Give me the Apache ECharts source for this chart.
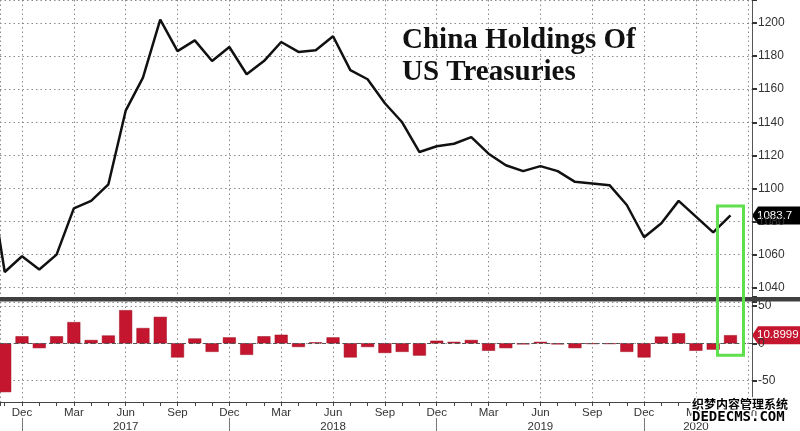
<!DOCTYPE html>
<html><head><meta charset="utf-8">
<script src="https://cdn.jsdelivr.net/npm/echarts@6/dist/echarts.min.js"></script>
<style>html,body{margin:0;padding:0;background:#fff}#c{width:800px;height:431px}</style>
</head><body><div id="c"></div>
<script>
// Months on the axis (Oct 2016 .. Jun 2020)
const months = ['Oct 2016','Nov 2016','Dec 2016','Jan 2017','Feb 2017','Mar 2017','Apr 2017','May 2017','Jun 2017','Jul 2017','Aug 2017','Sep 2017','Oct 2017','Nov 2017','Dec 2017','Jan 2018','Feb 2018','Mar 2018','Apr 2018','May 2018','Jun 2018','Jul 2018','Aug 2018','Sep 2018','Oct 2018','Nov 2018','Dec 2018','Jan 2019','Feb 2019','Mar 2019','Apr 2019','May 2019','Jun 2019','Jul 2019','Aug 2019','Sep 2019','Oct 2019','Nov 2019','Dec 2019','Jan 2020','Feb 2020','Mar 2020','Apr 2020','May 2020','Jun 2020'];
// China holdings of US Treasuries ($bn)
const holdings = [1115.5,1049.5,1059,1051,1060,1088,1092.5,1102.5,1147,1167,1202,1183,1189.5,1177,1185.5,1169,1177,1188.5,1182.5,1183.5,1192,1171.5,1166,1151.5,1140,1122,1125.5,1127,1131,1121,1114,1110.5,1113.5,1110.5,1104,1103,1102,1090,1070.5,1079,1092.5,1083,1073.5,1083.7];
// Monthly change ($bn)
const changes = [null,-65.5,9.5,-6.5,9.5,28.5,4.5,10.5,44.5,20.5,35.5,-19,6.5,-11.5,8,-15.5,9.5,11.5,-5,1.3,8,-19,-5,-13,-11.5,-16.5,3.5,2,4.5,-10,-6.5,-1.5,2,-1.5,-6.5,-1,-1,-11.5,-19,9,13.5,-10,-8.5,10.8999];
const yearLabels = {'Jun 2017':'2017','Jun 2018':'2018','Jun 2019':'2019','Mar 2020':'2020'};
const yearBreaks = ['Dec 2016','Dec 2017','Dec 2018','Dec 2019'];
const topTicksStep = 20, bottomTicksStep = 50;
const lastValueText = '1083.7', lastChangeText = '10.8999';
const titleLines = ['China Holdings Of','US Treasuries'];

const OFFSET = months.indexOf('Dec 2016');
const lineData = holdings.map((v,i)=>[i-OFFSET,v]);
const barData = changes.map((v,i)=>[i-OFFSET,v]);
const yearBreakPos = yearBreaks.map(m=>months.indexOf(m)-OFFSET);

const X_MIN = -1.273, X_MAX = 42.245;
const grid = [
  {left:0,right:48,top:0,height:297,outerBoundsMode:'none',containLabel:false},
  {left:0,right:48,top:302,height:100,outerBoundsMode:'none',containLabel:false}
];
const dotted = {show:true,lineStyle:{color:'#8a8a8a',width:1,type:[1.5,3]}};
function monthLabel(v){
  const k = Math.round(v);
  if (Math.abs(v-k)>1e-6) return '';
  const m = months[k+OFFSET];
  if (!m) return '';
  const name = m.split(' ')[0];
  return yearLabels[m] ? name+'\n'+yearLabels[m] : name;
}
const labelFont = 'Liberation Sans, Arial, sans-serif';
const option = {
  backgroundColor:'#fff',
  animation:false,
  grid: grid,
  xAxis: [
    {type:'value',gridIndex:0,min:X_MIN,max:X_MAX,splitNumber:14,axisLine:{show:false,onZero:false},axisTick:{show:false},axisLabel:{show:false},splitLine:dotted},
    {type:'value',gridIndex:1,min:X_MIN,max:X_MAX,splitNumber:14,
      axisLine:{show:true,onZero:false,lineStyle:{color:'#444',width:1}},
      axisTick:{show:true,length:4,lineStyle:{color:'#444'}},
      minorTick:{show:true,splitNumber:3,length:4,lineStyle:{color:'#444'}},
      axisLabel:{show:true,formatter:monthLabel,fontFamily:labelFont,fontSize:11.5,color:'#333',lineHeight:14,margin:4,showMinLabel:true,showMaxLabel:true,hideOverlap:false},
      splitLine:dotted},
    {type:'value',gridIndex:1,min:X_MIN,max:X_MAX,position:'bottom',offset:16,
      axisLine:{show:false,onZero:false},axisLabel:{show:false},splitLine:{show:false},
      axisTick:{show:true,customValues:yearBreakPos,length:14,lineStyle:{color:'#777',width:1}}}
  ],
  yAxis: [
    {type:'value',gridIndex:0,position:'right',min:1034.4,max:1213.9,splitNumber:9,
      axisLine:{show:true,onZero:false,lineStyle:{color:'#555',width:1}},
      axisTick:{show:true,inside:false,length:5,lineStyle:{color:'#333',width:2}},
      axisLabel:{margin:6,fontFamily:labelFont,fontSize:12,color:'#333',
        formatter:v=>Math.abs(v/topTicksStep-Math.round(v/topTicksStep))<1e-6?String(Math.round(v)):''},
      splitLine:dotted},
    {type:'value',gridIndex:1,position:'right',min:-78.7,max:55.4,splitNumber:3,
      axisLine:{show:true,onZero:false,lineStyle:{color:'#555',width:1}},
      axisTick:{show:true,inside:false,length:5,lineStyle:{color:'#333',width:2}},
      axisLabel:{margin:6,fontFamily:labelFont,fontSize:12,color:'#333',
        formatter:v=>Math.abs(v/bottomTicksStep-Math.round(v/bottomTicksStep))<1e-6?String(Math.round(v)):''},
      splitLine:dotted}
  ],
  series: [
    {type:'line',xAxisIndex:0,yAxisIndex:0,data:lineData,showSymbol:false,symbol:'none',clip:true,
      lineStyle:{color:'#111',width:2.5},z:3},
    {type:'bar',xAxisIndex:1,yAxisIndex:1,data:barData,barWidth:13,clip:true,
      itemStyle:{color:'#c4162e',borderColor:'#9e0f22',borderWidth:0.5},
      markLine:{silent:true,symbol:'none',label:{show:false},lineStyle:{color:'#555',width:1,type:[4,3]},data:[{yAxis:0}]}}
  ]
};
const chart = echarts.init(document.getElementById('c'),null,{renderer:'canvas'});
chart.setOption(option);

const lastI = holdings.length-1;
const pLine = chart.convertToPixel({xAxisIndex:0,yAxisIndex:0},[lastI-OFFSET,holdings[lastI]]);
const pBar = chart.convertToPixel({xAxisIndex:1,yAxisIndex:1},[lastI-OFFSET,changes[lastI]]);
const pZero = chart.convertToPixel({xAxisIndex:1,yAxisIndex:1},[lastI-OFFSET,0]);
const W = chart.getWidth();
const axisX = W-48;
function tag(y,text,color){
  return {type:'group',z:100,children:[
    {type:'polygon',shape:{points:[[axisX,y],[axisX+6,y-9],[W,y-9],[W,y+9],[axisX+6,y+9]]},style:{fill:color}},
    {type:'text',x:axisX+5,y:y,style:{text:text,fill:'#fff',font:'11.5px Liberation Sans, Arial, sans-serif',verticalAlign:'middle',align:'left'}}
  ]};
}
const titleFont = 'bold 29px Liberation Serif, Times New Roman, serif';
chart.setOption({graphic:[
  {type:'rect',z:50,shape:{x:0,y:297,width:W,height:4.5},style:{fill:'#404040'}},
  {type:'text',z:60,x:402,y:40.5,style:{text:titleLines[0],fill:'#111',font:titleFont,verticalAlign:'middle'}},
  {type:'text',z:60,x:402,y:72.5,style:{text:titleLines[1],fill:'#111',font:titleFont,verticalAlign:'middle'}},
  tag(pLine[1],lastValueText,'#000'),
  tag(pBar[1],lastChangeText,'#c4162e'),
  {type:'rect',z:90,shape:{x:pLine[0]-13,y:pLine[1]-9.5,width:26,height:(pZero[1]+12)-(pLine[1]-9.5)},style:{fill:'none',stroke:'#5fe04c',lineWidth:3}},
  {type:'text',z:110,x:692,y:404,style:{text:'织梦内容管理系统',fill:'#000',stroke:'#fff',lineWidth:3,font:'bold 12px Noto Sans CJK SC, sans-serif',verticalAlign:'middle'}},
  {type:'text',z:110,x:692,y:417,style:{text:'DEDECMS.COM',fill:'#000',stroke:'#fff',lineWidth:3,font:'bold 14px DejaVu Sans Mono, monospace',verticalAlign:'middle'}}
]});
</script>
</body></html>
